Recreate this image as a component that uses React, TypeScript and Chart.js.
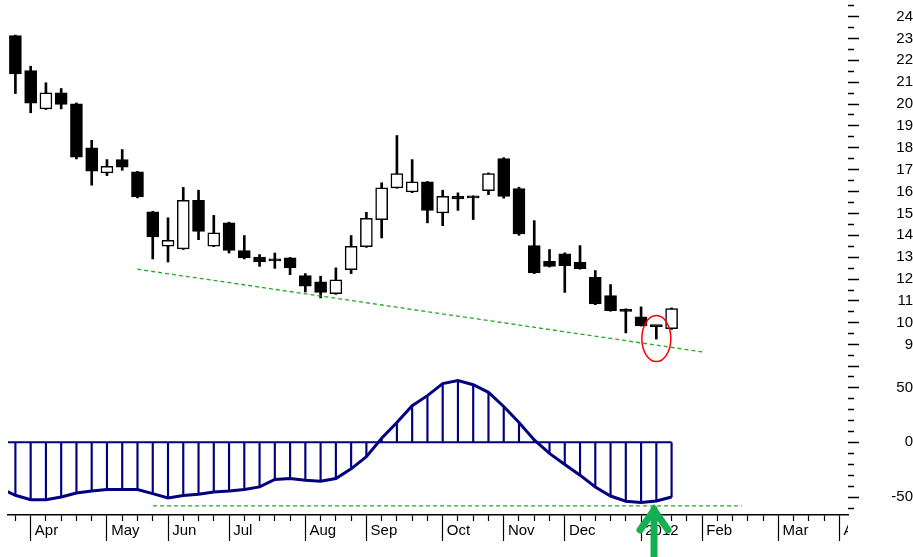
import React, { useEffect, useRef } from 'react';
import { Chart, registerables } from 'chart.js';

Chart.register(...registerables);

// ---- data ----
const weekTicks = [0, 1, 2, 3, 4, 5, 6, 7, 8, 9, 10, 11, 12, 13, 14, 15, 16, 17, 18, 19, 20, 21, 22, 23, 24, 25, 26, 27, 28, 29, 30, 31, 32, 33, 34, 35, 36, 37, 38, 39, 40, 41, 42, 43, 44, 45, 46, 47, 48, 49, 50, 51, 52, 53, 54];
const monthTicks = [1, 6, 10, 14, 19, 23, 28, 32, 36, 41, 45, 50, 54];
const monthLabels = ['Apr', 'May', 'Jun', 'Jul', 'Aug', 'Sep', 'Oct', 'Nov', 'Dec', '2012', 'Feb', 'Mar', 'Apr'];

const candleWeeks = [0, 1, 2, 3, 4, 5, 6, 7, 8, 9, 10, 11, 12, 13, 14, 15, 16, 17, 18, 19, 20, 21, 22, 23, 24, 25, 26, 27, 28, 29, 30, 31, 32, 33, 34, 35, 36, 37, 38, 39, 40, 41, 42, 43];
const opens = [23.13, 21.53, 19.78, 20.51, 20.01, 18.0, 16.85, 17.46, 16.9, 15.07, 13.5, 13.38, 15.6, 13.5, 14.57, 13.3, 13.01, 12.92, 12.97, 12.16, 11.87, 11.33, 12.43, 13.48, 14.72, 16.17, 15.98, 16.44, 15.02, 15.78, 15.78, 16.04, 17.51, 16.14, 13.53, 12.81, 13.15, 12.77, 12.08, 11.24, 10.55, 10.27, 9.85, 9.73];
const highs = [23.15, 21.73, 20.97, 20.71, 20.05, 18.34, 17.46, 17.92, 16.92, 15.1, 14.8, 16.19, 16.06, 14.91, 14.6, 13.99, 13.12, 13.19, 12.99, 12.25, 12.13, 12.51, 13.99, 15.05, 16.4, 18.56, 17.46, 16.46, 16.06, 15.94, 15.8, 16.85, 17.55, 16.2, 14.67, 13.35, 13.2, 13.53, 12.39, 11.75, 10.64, 10.73, 9.86, 10.68];
const lows = [20.48, 19.6, 19.75, 19.78, 17.49, 16.29, 16.73, 16.97, 15.71, 12.92, 12.78, 13.35, 13.8, 13.48, 13.19, 12.92, 12.58, 12.49, 12.2, 11.41, 11.14, 11.3, 12.25, 13.45, 13.88, 16.15, 15.95, 14.57, 14.44, 15.14, 14.72, 15.86, 15.7, 14.0, 12.25, 12.55, 11.39, 12.45, 10.83, 10.53, 9.54, 9.85, 9.26, 9.7];
const closes = [21.38, 20.04, 20.51, 19.98, 17.57, 16.93, 17.15, 17.11, 15.76, 13.93, 13.77, 15.6, 14.18, 14.11, 13.31, 12.97, 12.78, 12.83, 12.51, 11.67, 11.39, 11.97, 13.5, 14.78, 16.17, 16.82, 16.44, 15.14, 15.78, 15.66, 15.71, 16.82, 15.78, 14.06, 12.28, 12.58, 12.61, 12.48, 10.86, 10.56, 10.52, 9.87, 9.83, 10.65];

const oscWeeks = [-1, 0, 1, 2, 3, 4, 5, 6, 7, 8, 9, 10, 11, 12, 13, 14, 15, 16, 17, 18, 19, 20, 21, 22, 23, 24, 25, 26, 27, 28, 29, 30, 31, 32, 33, 34, 35, 36, 37, 38, 39, 40, 41, 42, 43];
const oscValues = [-42, -48.3, -52.3, -52.3, -49.9, -46.2, -44.4, -43.1, -43.1, -43.1, -46.8, -50.8, -48.6, -47.4, -45.3, -44.4, -43.1, -40.7, -33.9, -33.0, -34.6, -35.5, -33.0, -24.2, -13.2, 3.7, 18.0, 33.3, 42.5, 53.5, 56.2, 52.5, 45.5, 32.6, 18.0, 2.1, -10.1, -20.2, -30.0, -40.7, -49.0, -53.8, -55.0, -53.6, -49.9];

const priceTicks = [8, 8.5, 9, 9.5, 10, 10.5, 11, 11.5, 12, 12.5, 13, 13.5, 14, 14.5, 15, 15.5, 16, 16.5, 17, 17.5, 18, 18.5, 19, 19.5, 20, 20.5, 21, 21.5, 22, 22.5, 23, 23.5, 24, 24.5];
const oscTicks = [-60, -50, -40, -30, -20, -10, 0, 10, 20, 30, 40, 50, 60];

const supportX = [7.99, 45.04];
const supportY = [12.45, 8.67];
const oscLevelX = [9.02, 47.6];
const oscLevelY = [-58, -58];
const zeroLineX = [-1, 43];

const markerWeek = 42;
const markerPrice = 9.28;
const arrowWeek = 41.85;
const arrowOsc = -59;

const NAVY = '#000080';
const GREEN = '#22aa22';

const noPad = (s: any) => {
  s.paddingTop = 0;
  s.paddingBottom = 0;
  s.paddingLeft = 0;
  s.paddingRight = 0;
};

const annotPlugin = {
  id: 'annot',
  afterDraw(chart: any) {
    const ctx = chart.ctx;
    const x = chart.scales.x;
    const y = chart.scales.y;
    const y2 = chart.scales.y2;
    ctx.save();
    // cut the overflowing last month label at chart edge
    ctx.fillStyle = '#fff';
    ctx.fillRect(chart.chartArea.right, chart.chartArea.bottom + 3, chart.width - chart.chartArea.right, chart.height);
    // red ellipse
    ctx.strokeStyle = '#ff0000';
    ctx.lineWidth = 1.5;
    ctx.beginPath();
    ctx.ellipse(x.getPixelForValue(markerWeek), y.getPixelForValue(markerPrice), 14.5, 23, 0, 0, Math.PI * 2);
    ctx.stroke();
    // green arrow
    const ax = x.getPixelForValue(arrowWeek);
    const ay = y2.getPixelForValue(arrowOsc);
    ctx.strokeStyle = '#14af50';
    ctx.lineWidth = 7;
    ctx.lineCap = 'round';
    ctx.lineJoin = 'miter';
    ctx.beginPath();
    ctx.moveTo(ax, ay + 2);
    ctx.lineTo(ax, chart.height + 5);
    ctx.stroke();
    ctx.beginPath();
    ctx.moveTo(ax - 14, ay + 23);
    ctx.lineTo(ax, ay + 3);
    ctx.lineTo(ax + 14, ay + 23);
    ctx.stroke();
    ctx.restore();
  },
};

export default function App() {
  const ref = useRef<HTMLCanvasElement | null>(null);

  useEffect(() => {
    if (!ref.current) return;
    Chart.defaults.font.family = '"Liberation Sans", Arial, sans-serif';
    Chart.defaults.font.size = 15;
    Chart.defaults.color = '#000';

    const chart = new Chart(ref.current, {
      type: 'bar',
      data: {
        datasets: [
          {
            type: 'bar',
            data: candleWeeks.map((k, i) => ({ x: k, y: [lows[i], highs[i]] })),
            backgroundColor: '#000',
            barThickness: 2,
            grouped: false,
            order: 5,
            xAxisID: 'x',
            yAxisID: 'y',
          } as any,
          {
            type: 'bar',
            data: candleWeeks.map((k, i) => ({ x: k, y: [opens[i], closes[i]] })),
            backgroundColor: candleWeeks.map((k, i) => (closes[i] > opens[i] ? '#ffffff' : '#000000')),
            borderColor: '#000',
            borderWidth: 1.5,
            borderSkipped: false,
            barThickness: 12,
            minBarLength: 2,
            grouped: false,
            order: 4,
            xAxisID: 'x',
            yAxisID: 'y',
          } as any,
          {
            type: 'line',
            data: supportX.map((v, i) => ({ x: v, y: supportY[i] })),
            borderColor: GREEN,
            borderWidth: 1.3,
            borderDash: [4, 3],
            pointRadius: 0,
            order: 1,
            xAxisID: 'x',
            yAxisID: 'y',
          } as any,
          {
            type: 'bar',
            data: candleWeeks.map((k) => ({ x: k, y: oscValues[oscWeeks.indexOf(k)] })),
            backgroundColor: NAVY,
            barThickness: 1.5,
            grouped: false,
            order: 6,
            xAxisID: 'x',
            yAxisID: 'y2',
          } as any,
          {
            type: 'line',
            data: zeroLineX.map((v) => ({ x: v, y: 0 })),
            borderColor: NAVY,
            borderWidth: 2,
            pointRadius: 0,
            order: 3,
            xAxisID: 'x',
            yAxisID: 'y2',
          } as any,
          {
            type: 'line',
            data: oscWeeks.map((k, i) => ({ x: k, y: oscValues[i] })),
            borderColor: NAVY,
            borderWidth: 3,
            pointRadius: 0,
            tension: 0,
            order: 0,
            xAxisID: 'x',
            yAxisID: 'y2',
          } as any,
          {
            type: 'line',
            data: oscLevelX.map((v, i) => ({ x: v, y: oscLevelY[i] })),
            borderColor: GREEN,
            borderWidth: 1.3,
            borderDash: [4, 3],
            pointRadius: 0,
            order: 1,
            xAxisID: 'x',
            yAxisID: 'y2',
          } as any,
        ],
      },
      options: {
        animation: false,
        responsive: false,
        devicePixelRatio: 1,
        events: [],
        layout: { padding: { left: 8, top: 6, right: 0, bottom: 0 } },
        plugins: { legend: { display: false }, tooltip: { enabled: false } },
        scales: {
          x: {
            type: 'linear',
            position: 'bottom',
            min: -0.485,
            max: 54.56,
            offset: false,
            weight: 0,
            afterBuildTicks: (s: any) => {
              s.ticks = weekTicks.map((v) => ({ value: v }));
            },
            afterFit: (s: any) => {
              s.height = 42;
              noPad(s);
            },
            border: { display: true, color: '#000', width: 1.5 },
            grid: {
              display: true,
              offset: false,
              drawOnChartArea: false,
              drawTicks: true,
              tickLength: 26,
              tickColor: '#000',
              tickWidth: 1.2,
              tickBorderDash: (c: any) => (c.tick && monthTicks.includes(c.tick.value) ? [] : [5.5, 100]),
            },
            ticks: {
              autoSkip: false,
              maxRotation: 0,
              minRotation: 0,
              align: 'start',
              padding: -19,
              color: '#000',
              font: { size: 15 },
              callback: (v: any) => {
                const i = monthTicks.indexOf(Number(v));
                return i >= 0 ? ' ' + monthLabels[i] : '';
              },
            },
          } as any,
          y: {
            type: 'linear',
            position: 'right',
            stack: 'panels',
            stackWeight: 363,
            min: 7.89,
            max: 24.48,
            afterBuildTicks: (s: any) => {
              s.ticks = priceTicks.map((v) => ({ value: v }));
            },
            afterFit: (s: any) => {
              s.width = 65;
              noPad(s);
            },
            border: { display: false },
            grid: {
              drawOnChartArea: false,
              drawTicks: true,
              tickLength: 11,
              tickColor: '#000',
              tickWidth: 1.5,
              tickBorderDash: (c: any) => (c.tick && c.tick.value % 1 !== 0 ? [6, 100] : []),
            },
            ticks: {
              autoSkip: false,
              crossAlign: 'far',
              padding: 33.3,
              color: '#000',
              font: { size: 15 },
              callback: (v: any) => (v >= 9 && v <= 24 && v % 1 === 0 ? String(v) : ''),
            },
          } as any,
          y2: {
            type: 'linear',
            position: 'right',
            stack: 'panels',
            stackWeight: 146,
            min: -66.3,
            max: 66.8,
            afterBuildTicks: (s: any) => {
              s.ticks = oscTicks.map((v) => ({ value: v }));
            },
            afterFit: (s: any) => {
              s.width = 65;
              noPad(s);
            },
            border: { display: false },
            grid: {
              drawOnChartArea: false,
              drawTicks: true,
              tickLength: 11,
              tickColor: '#000',
              tickWidth: 1.5,
              tickBorderDash: (c: any) => (c.tick && c.tick.value % 50 !== 0 ? [6, 100] : []),
            },
            ticks: {
              autoSkip: false,
              crossAlign: 'far',
              padding: 28.3,
              color: '#000',
              font: { size: 15 },
              callback: (v: any) => (v % 50 === 0 ? String(v) : ''),
            },
          } as any,
        },
      } as any,
      plugins: [annotPlugin],
    });
    return () => chart.destroy();
  }, []);

  return (
    <div style={{ position: 'fixed', left: 0, top: 0, width: 913, height: 557, background: '#fff' }}>
      <canvas ref={ref} width={913} height={557} style={{ width: 913, height: 557, display: 'block' }} />
    </div>
  );
}
